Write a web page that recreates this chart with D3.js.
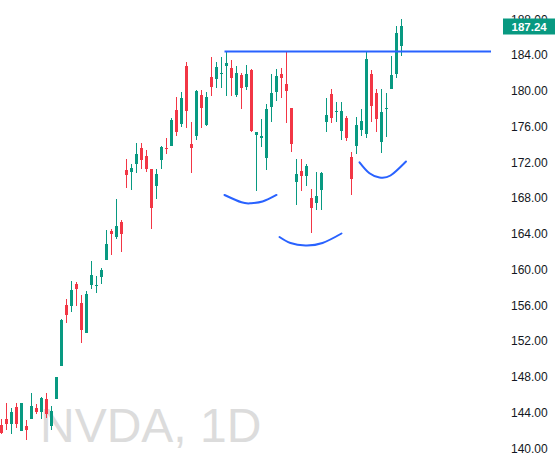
<!DOCTYPE html>
<html><head><meta charset="utf-8">
<script src="https://cdn.jsdelivr.net/npm/d3@7/dist/d3.min.js"></script>
<style>html,body{margin:0;padding:0;background:#fff;overflow:hidden}</style>
</head><body><svg id="chart" width="555" height="462"></svg>
<script>
// ---- data (daily candles, index 0..80) ----
const opens = [142.61,143.28,142.69,144.63,141.98,142.53,143.32,144.51,144.03,145.55,
142.53,145.55,149.21,156.04,155.96,158.42,156.29,152.94,158.27,158.20,
159.20,161.07,164.35,163.68,165.35,171.14,170.88,171.81,173.63,172.74,
171.25,169.35,172.26,173.60,173.82,177.85,176.28,182.77,174.04,174.94,
179.53,176.17,181.54,181.32,181.90,182.77,182.55,179.53,181.76,180.45,
182.32,175.08,174.77,172.51,178.22,179.89,181.91,180.79,178.07,169.83,
171.02,170.50,168.00,167.41,168.90,176.51,179.64,177.68,175.50,176.95,
172.59,173.82,175.61,175.16,181.87,179.75,174.27,177.98,180.20,181.87,
185.04];
const highs = [143.28,145.04,144.48,145.11,145.10,143.14,146.16,144.93,145.78,146.16,
144.77,148.00,154.47,156.71,158.72,158.61,157.15,157.60,160.96,159.28,
160.21,164.43,164.50,167.89,165.50,172.37,171.77,174.16,174.16,173.37,
171.30,171.25,173.82,174.72,176.95,179.30,179.86,183.22,176.51,180.09,
180.09,179.86,183.78,183.22,183.78,184.34,183.44,182.77,181.99,182.88,
182.40,175.40,176.84,178.52,181.91,182.43,182.55,184.37,178.10,172.40,
172.40,171.81,169.01,170.91,170.88,179.19,180.20,178.74,178.74,177.18,
173.15,177.06,177.96,184.34,182.32,180.20,180.20,179.75,183.89,187.24,
188.03];
const lows = [141.64,142.05,141.64,142.31,141.95,140.94,143.30,143.88,143.25,143.36,
142.05,145.55,149.21,154.06,155.29,155.96,151.79,152.90,157.83,157.41,
158.42,161.07,161.63,163.45,162.00,169.16,168.90,170.83,171.25,170.91,
164.54,167.89,171.25,172.93,173.80,174.94,175.95,175.83,170.80,174.49,
175.83,176.10,179.41,180.31,180.31,179.41,179.41,179.30,177.96,180.09,
175.42,168.82,173.71,171.14,176.54,178.85,179.19,176.43,173.18,167.26,
168.82,169.38,164.12,166.70,166.66,175.39,176.39,176.51,174.49,174.38,
168.34,172.93,174.94,174.72,176.51,175.39,173.04,174.83,180.20,181.43,
183.89];
const closes = [141.75,142.69,144.10,142.76,145.04,142.02,144.74,144.10,145.60,143.84,
144.18,147.98,154.36,154.92,157.71,157.86,153.24,157.30,159.39,158.27,
159.95,162.86,163.98,164.87,163.98,170.58,171.39,172.93,172.26,171.25,
166.89,170.69,173.71,173.49,176.73,175.42,179.19,177.74,173.60,180.01,
178.07,179.30,180.45,182.66,182.00,183.11,181.43,182.00,180.34,181.87,
175.53,175.39,174.91,177.96,179.75,181.65,181.46,179.97,174.08,170.69,
170.50,171.58,166.92,168.23,170.77,177.29,176.95,177.77,177.74,174.72,
170.13,176.17,176.62,183.55,178.30,176.84,177.62,178.07,181.76,186.46,
187.24];
const tickValues = [140,144,148,152,156,160,164,168,172,176,180,184,188];
const symbolLabel = "NVDA, 1D";
const lastPrice = 187.24;
// annotations (candle index, price)
const resistanceLevel = 184.39;
const resistanceFrom = 44.6;
const arcLeft  = [[44.6,168.34],[48.0,167.52],[49.8,167.41],[52.2,167.61],[55.0,168.34]];
const arcMid   = [[55.6,163.64],[57.8,162.97],[60.8,162.69],[64.2,162.97],[68.0,164.03]];
const arcRight = [[71.6,172.00],[73.6,170.77],[75.6,170.30],[77.8,170.52],[80.9,172.09]];

const W = 555, H = 462, plotRight = 491;
const UP = "#089981", DOWN = "#f23645", BLUE = "#2962ff";

const svg = d3.select("#chart");
const x = d3.scaleLinear().domain([0, 80]).range([1.5, 401.5]);
const y = d3.scaleLinear().domain([140, 184]).range([448.3, 55]);

// watermark
svg.append("text").attr("x", 40).attr("y", 442)
  .attr("font-family", "'Liberation Sans', Arial, sans-serif")
  .attr("font-size", 48).attr("fill", "#dcdcdc").text(symbolLabel);

const candles = opens.map((o, i) => ({i, o, h: highs[i], l: lows[i], c: closes[i]}));
const g = svg.append("g");
const cg = g.selectAll("g.c").data(candles).join("g")
  .attr("fill", d => d.c >= d.o ? UP : DOWN);
cg.append("rect")
  .attr("x", d => x(d.i) - 0.5).attr("width", 1)
  .attr("y", d => Math.round(y(d.h)))
  .attr("height", d => Math.max(1, Math.round(y(d.l)) - Math.round(y(d.h))));
cg.append("rect")
  .attr("x", d => x(d.i) - 1.5).attr("width", 3)
  .attr("y", d => Math.round(y(Math.max(d.o, d.c))))
  .attr("height", d => Math.max(1, Math.round(y(Math.min(d.o, d.c))) - Math.round(y(Math.max(d.o, d.c)))));

// resistance line
svg.append("line")
  .attr("x1", x(resistanceFrom)).attr("x2", plotRight)
  .attr("y1", y(resistanceLevel)).attr("y2", y(resistanceLevel))
  .attr("stroke", BLUE).attr("stroke-width", 2);

// arcs
const arcLine = d3.line().x(d => x(d[0])).y(d => y(d[1])).curve(d3.curveNatural);
[arcLeft, arcMid, arcRight].forEach(a => {
  svg.append("path").attr("d", arcLine(a)).attr("fill", "none")
    .attr("stroke", BLUE).attr("stroke-width", 2).attr("stroke-linecap", "round");
});

// right price axis
const axis = d3.axisRight(y).tickValues(tickValues).tickSize(0).tickPadding(6)
  .tickFormat(d3.format(".2f"));
const ag = svg.append("g").attr("transform", `translate(505,0)`).call(axis);
ag.select(".domain").remove();
ag.selectAll("text").attr("font-family", "'Liberation Sans', Arial, sans-serif")
  .attr("font-size", 12).attr("fill", "#131722");

// last price tag
const ty = y(lastPrice);
svg.append("rect").attr("x", 503).attr("y", Math.round(ty) - 7.5).attr("width", 52).attr("height", 16)
  .attr("fill", UP);
svg.append("text").attr("x", 511.5).attr("y", Math.round(ty) + 0.5).attr("dy", "0.35em")
  .attr("font-family", "'Liberation Sans', Arial, sans-serif").attr("font-weight", "bold")
  .attr("font-size", 11.5).attr("fill", "#fff").text(d3.format(".2f")(lastPrice));
</script></body></html>
